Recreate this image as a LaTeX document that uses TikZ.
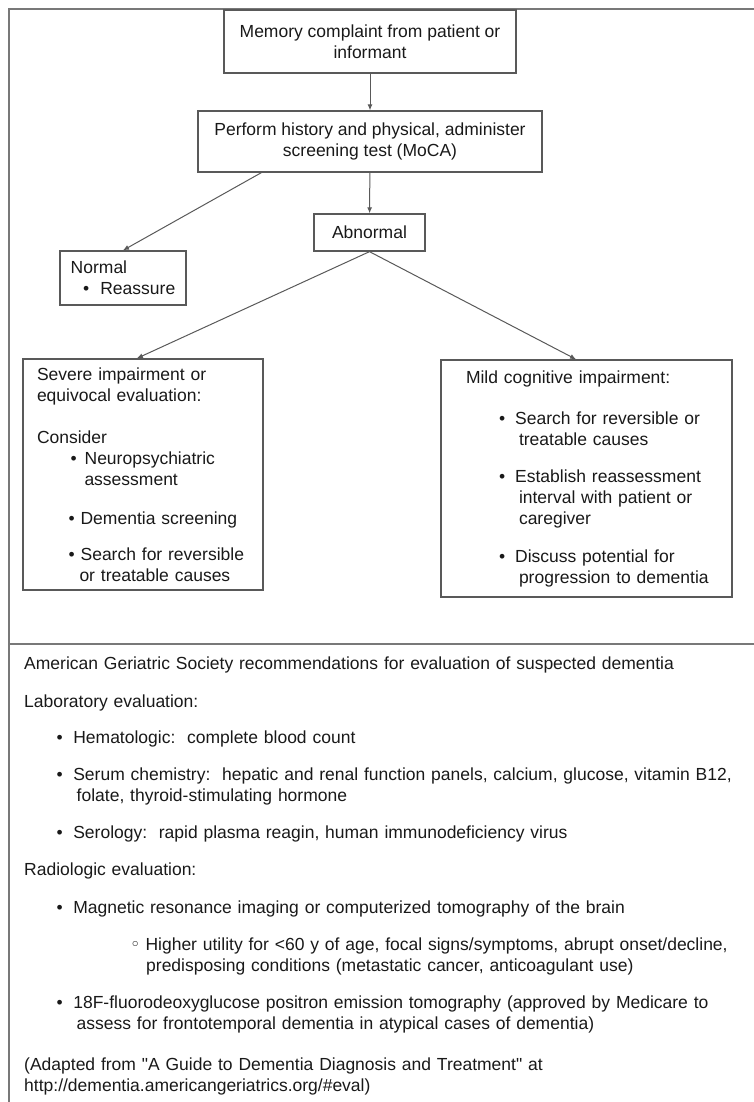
\documentclass[tikz,border=0pt]{standalone}
\usepackage{fontspec}
\setmainfont{Liberation Sans}
\newfontfamily\symfont{DejaVu Sans}
\usepackage{tikz}
\usetikzlibrary{arrows.meta}

\definecolor{framegray}{gray}{0.47}
\definecolor{linegray}{gray}{0.35}
\definecolor{inkgray}{gray}{0.1}

\begin{document}
\begin{tikzpicture}[x=1pt,y=-1pt,
	every node/.style={font=\fontsize{17.5}{21}\selectfont,text=inkgray},
	box/.style={rectangle,draw=linegray,line width=1.3pt,inner sep=0pt},
	note/.style={anchor=base west,inner sep=0pt,text width=700pt,align=left},
	link/.style={linegray,line width=1pt,-{Latex[length=6pt,width=5pt]}}]

	\def\bul{\textbullet\kern10.5pt}
	\useasboundingbox (0,0) rectangle (754,1102);

	% frame
	\draw[framegray,line width=2pt] (754,9) -- (9,9) -- (9,1102);
	\draw[framegray,line width=2pt] (9,644) -- (754,644);

	% flow chart
	\node[box,minimum width=292pt,minimum height=63pt,align=center] (mem) at (370,41.5)
		{Memory complaint from patient or\\informant};
	\node[box,minimum width=344pt,minimum height=61pt,align=center] (hist) at (370,141.5)
		{Perform history and physical, administer\\screening test (MoCA)};
	\node[box,minimum width=111pt,minimum height=37pt] (abn) at (369.5,232.5) {Abnormal};
	\node[box,minimum width=126pt,minimum height=54pt,align=left] (norm) at (123,278)
		{Normal\\\hspace*{12.5pt}\textbullet\kern11pt Reassure};
	\node[box,minimum width=240pt,minimum height=231pt,text width=212pt,align=left] (sev) at (143,474.5)
		{Severe impairment or\\
		equivocal evaluation:\\[21pt]
		Consider\\
		\hspace*{33.5pt}\textbullet\kern8pt Neuropsychiatric\\
		\hspace*{47.5pt}assessment\\[18pt]
		\hspace*{31.5pt}\textbullet\kern6pt Dementia screening\\[15pt]
		\hspace*{31.5pt}\textbullet\kern6pt Search for reversible\\
		\hspace*{42.5pt}or treatable causes};
	\node[box,minimum width=291pt,minimum height=237pt,text width=270pt,align=left] (mild) at (586.5,478.5)
		{\hspace*{14.5pt}Mild cognitive impairment:\\[20pt]
		\hspace*{47.5pt}\textbullet\kern10pt Search for reversible or\\
		\hspace*{67.5pt}treatable causes\\[16pt]
		\hspace*{47.5pt}\textbullet\kern10pt Establish reassessment\\
		\hspace*{67.5pt}interval with patient or\\
		\hspace*{67.5pt}caregiver\\[17pt]
		\hspace*{47.5pt}\textbullet\kern10pt Discuss potential for\\
		\hspace*{67.5pt}progression to dementia};

	\path[link] (mem) edge (hist);
	\path[link] (hist) edge (abn);
	\path[link] (hist.196) edge (norm.north);
	\path[link] (abn.south) edge (sev.93);
	\path[link] (abn.south) edge (mild.95);

	% recommendations
	\node[note] (ags) at (24,669) {American Geriatric Society recommendations for evaluation of suspected dementia};
	\node[note] (lab) at (24,707) {Laboratory evaluation:};
	\node[note] (hema) at (56.5,743) {\bul Hematologic:\ \ complete blood count};
	\node[note] (serum) at (56.5,780) {\bul Serum chemistry:\ \ hepatic and renal function panels, calcium, glucose, vitamin B12,\\
		\hspace*{20pt}folate, thyroid-stimulating hormone};
	\node[note] (sero) at (56.5,838) {\bul Serology:\ \ rapid plasma reagin, human immunodeficiency virus};
	\node[note] (radio) at (24,875) {Radiologic evaluation:};
	\node[note] (mri) at (56.5,913) {\bul Magnetic resonance imaging or computerized tomography of the brain};
	\node[note,text width=610pt] (util) at (130,950) {{\symfont ◦}\kern5pt Higher utility for <60 y of age, focal signs/symptoms, abrupt onset/decline,\\
		\hspace*{16pt}predisposing conditions (metastatic cancer, anticoagulant use)};
	\node[note] (pet) at (56.5,1008) {\bul 18F-fluorodeoxyglucose positron emission tomography (approved by Medicare to\\
		\hspace*{20pt}assess for frontotemporal dementia in atypical cases of dementia)};
	\node[note] (src) at (24,1070) {(Adapted from \textquotedbl A Guide to Dementia Diagnosis and Treatment\textquotedbl{} at\\
		http://dementia.americangeriatrics.org/\#eval)};

\end{tikzpicture}
\end{document}
